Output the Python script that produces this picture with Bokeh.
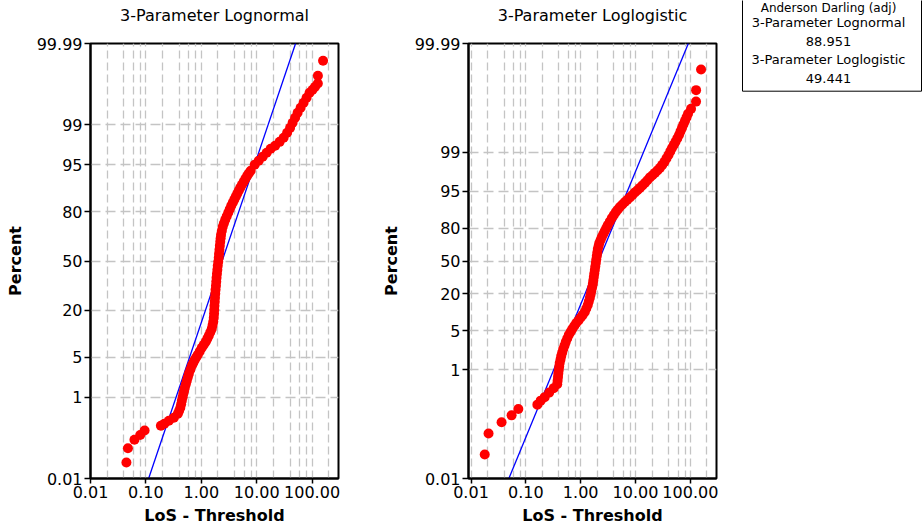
import math
from statistics import NormalDist

from bokeh.plotting import figure
from bokeh.models import Range1d, FixedTicker, PrintfTickFormatter, CustomJSTickFormatter, Title
from bokeh.layouts import row, column
from bokeh.embed import file_html
from bokeh.resources import INLINE
from bokeh.core.properties import value

# ---------------- data ----------------
# 3-Parameter Lognormal probability plot (LoS - Threshold, Percent)
lognormal_x = [
    0.0445, 0.0474, 0.0621, 0.0789, 0.0948,
    0.1864, 0.2154, 0.2597, 0.3195, 0.3773, 0.398, 0.4183, 0.4325, 0.4452, 0.4603,
    0.4738, 0.4898, 0.5043, 0.5256, 0.5478, 0.5711, 0.5954, 0.6335, 0.6743, 0.7177,
    0.7636, 0.8126, 0.8647, 0.9397, 1.021, 1.109, 1.205, 1.283, 1.365, 1.453,
    1.546, 1.598, 1.645, 1.680, 1.701, 1.715, 1.729, 1.751, 1.765, 1.788,
    1.810, 1.841, 1.863, 1.887, 1.918, 1.950, 1.983, 2.025, 2.067, 2.093,
    2.128, 2.163, 2.199, 2.236, 2.274, 2.350, 2.440, 2.564, 2.706, 2.881,
    3.066, 3.262, 3.471, 3.695, 3.932, 4.183, 4.452, 4.739, 5.043, 5.411,
    5.833, 6.256, 6.742, 7.235, 7.797, 9.204, 10.87, 12.83, 15.14, 17.88,
    21.54, 25.97, 30.66, 35.44, 40.14, 44.52, 49.39, 54.79, 62.06, 70.29,
    79.6, 90.2, 102.1, 113.3, 127.0, 127.4, 157.9,
]
lognormal_pct = [
    0.0285, 0.068, 0.112, 0.146, 0.188,
    0.242, 0.269, 0.314, 0.367, 0.449, 0.520, 0.603, 0.713, 0.841, 0.987,
    1.156, 1.321, 1.506, 1.749, 2.02, 2.336, 2.68, 3.138, 3.66, 4.08,
    4.55, 4.98, 5.43, 6.12, 6.88, 7.59, 8.35, 9.16, 10.04, 11.13,
    12.3, 13.58, 14.9, 16.6, 18.3, 20.2, 22.2, 24.3, 26.5, 28.8,
    31.1, 33.6, 36.1, 38.7, 41.3, 44.0, 46.7, 49.45, 52.2, 54.9,
    57.6, 60.25, 62.9, 65.1, 67.3, 69.72, 72.07, 74.04, 75.94, 77.77,
    79.51, 81.17, 82.74, 84.02, 85.23, 86.39, 87.47, 88.50, 89.47, 90.37,
    91.22, 92.01, 92.74, 93.32, 93.85, 95.0, 95.67, 96.26, 96.79, 97.25,
    97.56, 97.92, 98.24, 98.58, 98.86, 99.094, 99.283, 99.436, 99.560, 99.659,
    99.737, 99.799, 99.829, 99.855, 99.880, 99.923, 99.969,
]
lognormal_fit_x = [0.112, 50.4]
lognormal_fit_pct = [0.01, 99.99]

# 3-Parameter Loglogistic probability plot
loglogistic_x = [
    0.0178, 0.02089, 0.0361, 0.05499, 0.07293,
    0.1622, 0.1865, 0.2207, 0.2667, 0.3223, 0.3735, 0.3798, 0.3862, 0.3912, 0.3978,
    0.4063, 0.4147, 0.4290, 0.4418, 0.4609, 0.4807, 0.5078, 0.5340, 0.5689, 0.6060,
    0.6536, 0.7023, 0.7638, 0.8310, 0.9154, 1.004, 1.092, 1.189, 1.266, 1.348,
    1.406, 1.467, 1.517, 1.562, 1.616, 1.664, 1.699, 1.736, 1.773, 1.810,
    1.849, 1.888, 1.928, 1.969, 2.012, 2.054, 2.124, 2.188, 2.311, 2.431,
    2.589, 2.758, 2.938, 3.129, 3.404, 3.704, 4.028, 4.382, 4.766, 5.185,
    5.761, 6.402, 7.11, 7.9, 8.777, 9.75, 10.83, 12.03, 13.37, 14.85,
    16.50, 18.34, 20.37, 22.63, 25.14, 27.93, 30.76, 33.76, 36.72, 39.95,
    43.1, 46.29, 49.94, 53.62, 57.84, 62.14, 66.21, 70.5, 75.1, 80.0,
    85.2, 90.8, 103.0, 127.0, 127.4, 156.9,
]
loglogistic_pct = [
    0.0277, 0.0672, 0.1085, 0.1447, 0.1898,
    0.2277, 0.2696, 0.3126, 0.3783, 0.4571, 0.541, 0.627, 0.7265, 0.842, 0.9746,
    1.1296, 1.307, 1.515, 1.752, 2.026, 2.343, 2.706, 3.125, 3.609, 4.162,
    4.698, 5.30, 5.98, 6.73, 7.49, 8.36, 9.27, 10.32, 11.78, 13.41,
    15.23, 17.25, 19.46, 21.9, 24.54, 27.39, 30.44, 33.67, 37.07, 40.58,
    44.2, 47.88, 51.59, 55.28, 58.91, 62.45, 65.38, 68.2, 70.89, 73.45,
    75.85, 78.1, 80.2, 82.14, 84.22, 86.09, 87.54, 88.86, 89.87, 90.80,
    91.64, 92.42, 93.05, 93.66, 94.26, 94.81, 95.24, 95.67, 96.09, 96.46,
    96.84, 97.18, 97.42, 97.66, 97.89, 98.10, 98.32, 98.52, 98.72, 98.89,
    99.045, 99.17, 99.273, 99.36, 99.447, 99.52, 99.589, 99.645, 99.694, 99.736,
    99.772, 99.804, 99.841, 99.883, 99.928, 99.970,
]
loglogistic_fit_x = [0.049, 91.9]
loglogistic_fit_pct = [0.01, 99.99]

# axes / ticks
pct_ticks = [0.01, 1, 5, 20, 50, 80, 95, 99, 99.99]
pct_labels = ["0.01", "1", "5", "20", "50", "80", "95", "99", "99.99"]
x_ticks = [0.01, 0.1, 1, 10, 100]
x_grid = [0.01, 0.02, 0.04, 0.06, 0.08,
          0.1, 0.2, 0.4, 0.6, 0.8,
          1, 2, 4, 6, 8,
          10, 20, 40, 60, 80,
          100, 200]

# goodness of fit box
gof_header = "Anderson Darling (adj)"
dist_names = ["3-Parameter Lognormal", "3-Parameter Loglogistic"]
ad_values = [88.951, 49.441]

# ---------------- helpers ----------------
_nd = NormalDist()


def probit(p):
    return _nd.inv_cdf(p / 100.0)


def logit(p):
    q = p / 100.0
    return math.log(q / (1.0 - q))


FONT = "DejaVu Sans"
H = 527


def make_panel(title, xs, pcts, fit_x, fit_pct, tf, x_lo, x_hi, width, b_left, b_right, ylab_standoff):
    y_lo, y_hi = tf(0.01), tf(99.99)
    p = figure(width=width, height=H, x_axis_type="log",
               x_range=Range1d(x_lo, x_hi), y_range=Range1d(y_lo, y_hi),
               output_backend="svg", toolbar_location=None,
               min_border_left=b_left, min_border_right=b_right,
               min_border_top=43, min_border_bottom=49, title=title)
    p.background_fill_color = "white"
    p.border_fill_color = "white"
    p.outline_line_color = "black"
    p.outline_line_width = 2

    p.title.text_font = FONT
    p.title.text_font_size = "16px"
    p.title.text_font_style = "normal"
    p.title.text_color = "black"
    p.title.align = "center"
    p.title.vertical_align = "bottom"
    p.title.standoff = 2
    # thin spacer between the frame and the title
    p.add_layout(Title(text=" ", text_font_size="1px", standoff=15), "above")

    # grids
    p.xgrid.ticker = FixedTicker(ticks=x_grid)
    p.xgrid.grid_line_color = "#c4c4c4"
    p.xgrid.grid_line_width = 1.3
    p.xgrid.grid_line_dash = "8 4"
    tvals = [tf(v) for v in pct_ticks]
    p.ygrid.ticker = FixedTicker(ticks=tvals)
    p.ygrid.grid_line_color = "#c4c4c4"
    p.ygrid.grid_line_width = 1.3
    p.ygrid.grid_line_dash = "10 5"

    # x axis
    xa = p.xaxis[0]
    xa.ticker = FixedTicker(ticks=x_ticks)
    xa.formatter = PrintfTickFormatter(format="%.2f")
    xa.axis_label = "LoS - Threshold"
    xa.axis_label_text_font = FONT
    xa.axis_label_text_font_size = "16px"
    xa.axis_label_text_font_style = "bold"
    xa.axis_label_text_color = "black"
    xa.axis_label_standoff = 5
    xa.major_label_text_font = FONT
    xa.major_label_text_font_size = "16px"
    xa.major_label_text_color = "black"
    xa.major_label_standoff = 2
    xa.major_tick_out = 5
    xa.major_tick_in = 0
    xa.major_tick_line_width = 1.5
    xa.major_tick_line_color = "black"
    xa.minor_tick_line_color = None
    xa.axis_line_color = "black"
    xa.axis_line_width = 2

    # y axis (probability scale)
    ya = p.yaxis[0]
    ya.ticker = FixedTicker(ticks=tvals)
    ya.formatter = CustomJSTickFormatter(
        args=dict(vals=tvals, labels=pct_labels),
        code="""
        let best = 0, bd = Infinity;
        for (let i = 0; i < vals.length; i++) {
          const d = Math.abs(vals[i] - tick);
          if (d < bd) { bd = d; best = i; }
        }
        return labels[best];
        """)
    ya.axis_label = "Percent"
    ya.axis_label_text_font = FONT
    ya.axis_label_text_font_size = "16px"
    ya.axis_label_text_font_style = "bold"
    ya.axis_label_text_color = "black"
    ya.axis_label_standoff = ylab_standoff
    ya.major_label_text_font = FONT
    ya.major_label_text_font_size = "16px"
    ya.major_label_text_color = "black"
    ya.major_label_standoff = 2
    ya.major_tick_out = 6
    ya.major_tick_in = 0
    ya.major_tick_line_width = 1.5
    ya.major_tick_line_color = "black"
    ya.minor_tick_line_color = None
    ya.axis_line_color = "black"
    ya.axis_line_width = 2

    p.line(fit_x, [tf(v) for v in fit_pct], line_color="#0000ff", line_width=1.3)
    p.scatter(xs, [tf(v) for v in pcts], size=10, fill_color="#ff0000", line_color=None)
    return p


left = make_panel("3-Parameter Lognormal", lognormal_x, lognormal_pct,
                  lognormal_fit_x, lognormal_fit_pct, probit,
                  0.01, 300, 360, 90, 22, 9)
right = make_panel("3-Parameter Loglogistic", loglogistic_x, loglogistic_pct,
                   loglogistic_fit_x, loglogistic_fit_pct, logit,
                   0.009, 300, 370, 108, 14, 11)

# goodness-of-fit box (pixel-like coordinates, y downward)
LW = 922 - 360 - 370
leg = figure(width=LW, height=H, x_range=Range1d(0, LW), y_range=Range1d(H, 0),
             x_axis_location=None, y_axis_location=None,
             output_backend="svg", toolbar_location=None,
             min_border_left=0, min_border_right=0, min_border_top=0, min_border_bottom=0)
leg.grid.visible = False
leg.outline_line_color = None
leg.background_fill_color = "white"
leg.border_fill_color = "white"
leg.quad(left=12, right=191, top=-30, bottom=90.7, fill_color="white",
         line_color="black", line_width=1)
lines = []
for name, v in zip(dist_names, ad_values):
    lines.append(name)
    lines.append(f"{v:.3f}")
ys = [22.1 + 18.6 * i for i in range(len(lines))]
leg.text(x=[98], y=[7.5], text=[gof_header], text_align="center",
         text_baseline="middle", text_font=value(FONT), text_font_size="12px",
         text_color="black")
leg.text(x=[98] * len(lines), y=ys, text=lines, text_align="center",
         text_baseline="middle", text_font=value(FONT), text_font_size="13px",
         text_color="black")

layout = row(left, right, column(leg))
open("out.html", "w").write(file_html(layout, INLINE, "Probability plots"))
